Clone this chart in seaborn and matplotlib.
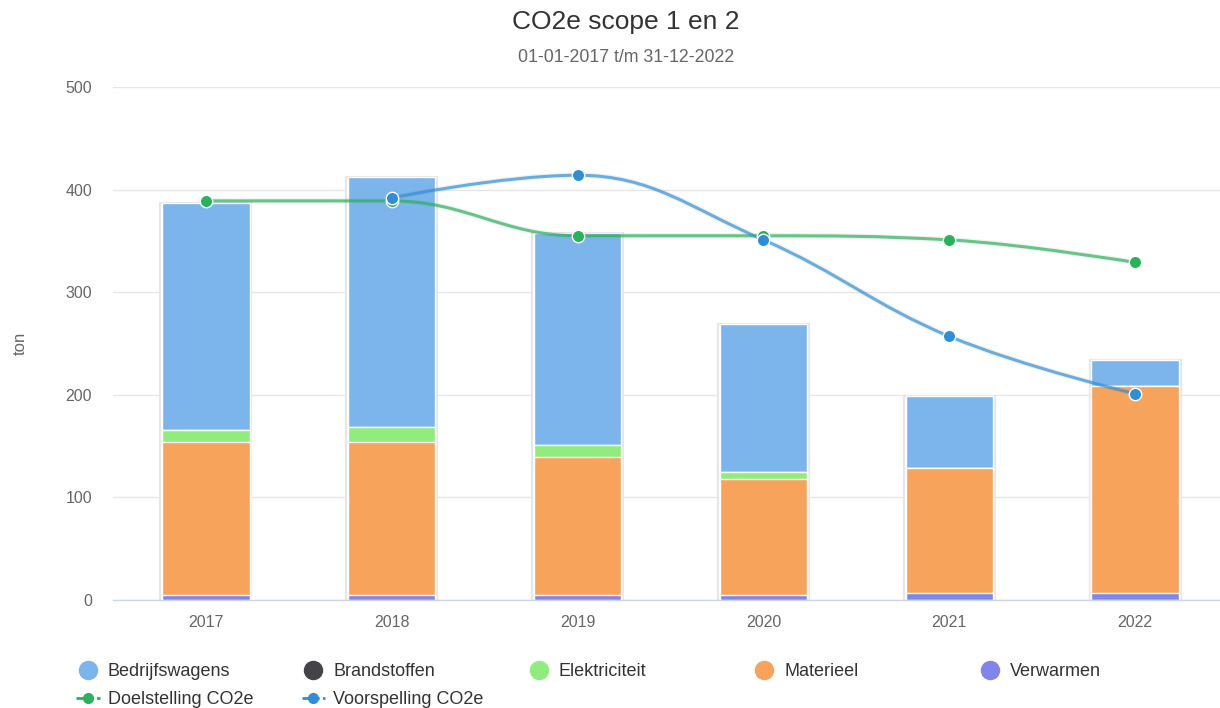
import numpy as np
import pandas as pd
import matplotlib
matplotlib.use('Agg')
import matplotlib.pyplot as plt
from matplotlib.path import Path
from matplotlib.patches import PathPatch
from matplotlib.lines import Line2D
import seaborn as sns

# data (ton CO2e)
years = ['2017', '2018', '2019', '2020', '2021', '2022']
bedrijfswagens = [221, 243, 207, 144, 70, 25]
brandstoffen = [0, 0, 0, 0, 0, 0]
elektriciteit = [12, 15, 12, 7, 0, 0]
materieel = [149, 149, 134, 113, 122, 202]
verwarmen = [5, 5, 5, 5, 7, 7]

doel_years = ['2017', '2018', '2019', '2020', '2021', '2022']
doelstelling = [389, 389, 355, 355, 351, 329]
voor_years = ['2018', '2019', '2020', '2021', '2022']
voorspelling = [392, 414, 351, 257, 201]

# stacking order, top series first (as in the legend)
series = {
    'Bedrijfswagens': bedrijfswagens,
    'Brandstoffen': brandstoffen,
    'Elektriciteit': elektriciteit,
    'Materieel': materieel,
    'Verwarmen': verwarmen,
}
colors = {
    'Bedrijfswagens': '#7cb5ec',
    'Brandstoffen': '#434348',
    'Elektriciteit': '#90ed7d',
    'Materieel': '#f7a35c',
    'Verwarmen': '#8085e9',
}
green = '#28b25a'
blue = '#2f8fd6'

df = pd.DataFrame(series, index=years)
# cumulative heights from the bottom series up
cum = df[df.columns[::-1]].cumsum(axis=1)


def spline_path(xs, ys, smoothing=1.5):
    # highcharts-like spline: cubic bezier with corrected control points
    n = len(xs)
    verts = [(xs[0], ys[0])]
    codes = [Path.MOVETO]
    right_prev = (xs[0], ys[0])
    denom = smoothing + 1
    for i in range(1, n):
        x, y = xs[i], ys[i]
        if i < n - 1:
            lx, ly = xs[i - 1], ys[i - 1]
            nx, ny = xs[i + 1], ys[i + 1]
            lcx = (smoothing * x + lx) / denom
            lcy = (smoothing * y + ly) / denom
            rcx = (smoothing * x + nx) / denom
            rcy = (smoothing * y + ny) / denom
            if rcx != lcx:
                corr = ((rcy - lcy) * (rcx - x)) / (rcx - lcx) + y - rcy
                lcy += corr
                rcy += corr
            if lcy > ly and lcy > y:
                lcy = max(ly, y)
                rcy = 2 * y - lcy
            elif lcy < ly and lcy < y:
                lcy = min(ly, y)
                rcy = 2 * y - lcy
            if rcy > ny and rcy > y:
                rcy = max(ny, y)
                lcy = 2 * y - rcy
            elif rcy < ny and rcy < y:
                rcy = min(ny, y)
                lcy = 2 * y - rcy
            left_c = (lcx, lcy)
            right_c = (rcx, rcy)
        else:
            left_c = (x, y)
            right_c = (x, y)
        verts += [right_prev, left_c, (x, y)]
        codes += [Path.CURVE4] * 3
        right_prev = right_c
    return Path(verts, codes)


sns.set_theme(style='white')
plt.rcParams['font.family'] = ['Liberation Sans', 'DejaVu Sans']

fig = plt.figure(figsize=(12.2, 7.08), dpi=100)
ax = fig.add_axes([113 / 1220, 108 / 708, 1115 / 1220, 513 / 708])

# faint shadow round each full bar
tot = pd.DataFrame({'year': years, 'value': cum['Bedrijfswagens'].values})
sns.barplot(data=tot, x='year', y='value', color='white', saturation=1,
            width=0.49, edgecolor='#e6e6e6', linewidth=1.5, ax=ax, zorder=1.5)

# stacked bars drawn as overlapping cumulative bars, tallest first
for name in df.columns:
    plot_df = pd.DataFrame({'year': years, 'value': cum[name].values})
    sns.barplot(data=plot_df, x='year', y='value', color=colors[name],
                saturation=1, width=0.47, edgecolor='white', linewidth=1,
                ax=ax, zorder=2)

xpos = {y: i for i, y in enumerate(years)}
for yrs, vals, col in [(doel_years, doelstelling, green), (voor_years, voorspelling, blue)]:
    xs = [xpos[y] for y in yrs]
    p = spline_path(xs, vals)
    ax.add_patch(PathPatch(p, facecolor='none', edgecolor='#888888', lw=4,
                           alpha=0.1, zorder=3))
    ax.add_patch(PathPatch(p, facecolor='none', edgecolor=col, lw=2.2,
                           alpha=0.7, zorder=4))
    sns.scatterplot(x=xs, y=vals, color=col, s=80, edgecolor='white',
                    linewidth=1, ax=ax, zorder=5)

ax.set_xlim(-0.5, 5.5)
ax.set_ylim(0, 500)
ax.set_yticks([0, 100, 200, 300, 400, 500])
ax.yaxis.grid(True, color='#e6e6e6', linewidth=1)
ax.set_axisbelow(True)
for s in ['top', 'right', 'left']:
    ax.spines[s].set_visible(False)
ax.spines['bottom'].set_color('#ccd6eb')
ax.spines['bottom'].set_linewidth(1)
ax.tick_params(axis='both', length=0, labelsize=11.5, colors='#666666')
ax.tick_params(axis='x', pad=11)
ax.tick_params(axis='y', pad=15)
ax.set_xlabel('')
ax.set_ylabel('ton', fontsize=12, color='#666666')
ax.yaxis.set_label_coords((28 - 113) / 1115, 0.5)

fig.text(626 / 1220, 1 - 22 / 708, 'CO2e scope 1 en 2', ha='center', va='center',
         fontsize=19, color='#333333')
fig.text(626 / 1220, 1 - 58 / 708, '01-01-2017 t/m 31-12-2022', ha='center',
         va='center', fontsize=12.8, color='#666666')

# legend: five columns, two rows
def dot(c):
    return Line2D([], [], marker='o', linestyle='none', markersize=13,
                  markerfacecolor=c, markeredgecolor=c)


def dash(c):
    return Line2D([], [], marker='o', linestyle='--', markersize=7,
                  color=c, lw=2, dashes=(2.5, 1.2))


columns = [
    [(dot(colors['Bedrijfswagens']), 'Bedrijfswagens'), (dash(green), 'Doelstelling CO2e')],
    [(dot(colors['Brandstoffen']), 'Brandstoffen'), (dash(blue), 'Voorspelling CO2e')],
    [(dot(colors['Elektriciteit']), 'Elektriciteit')],
    [(dot(colors['Materieel']), 'Materieel')],
    [(dot(colors['Verwarmen']), 'Verwarmen')],
]
for i, items in enumerate(columns):
    hs = [h for h, _ in items]
    ls = [l for _, l in items]
    fig.legend(hs, ls, loc='upper left',
               bbox_to_anchor=((67 + i * 225.5) / 1220, 1 - 654 / 708),
               frameon=False, fontsize=13, handlelength=1.3,
               handletextpad=0.45, labelspacing=0.63, borderpad=0,
               labelcolor='#333333')

fig.savefig('out.png', dpi=100)
